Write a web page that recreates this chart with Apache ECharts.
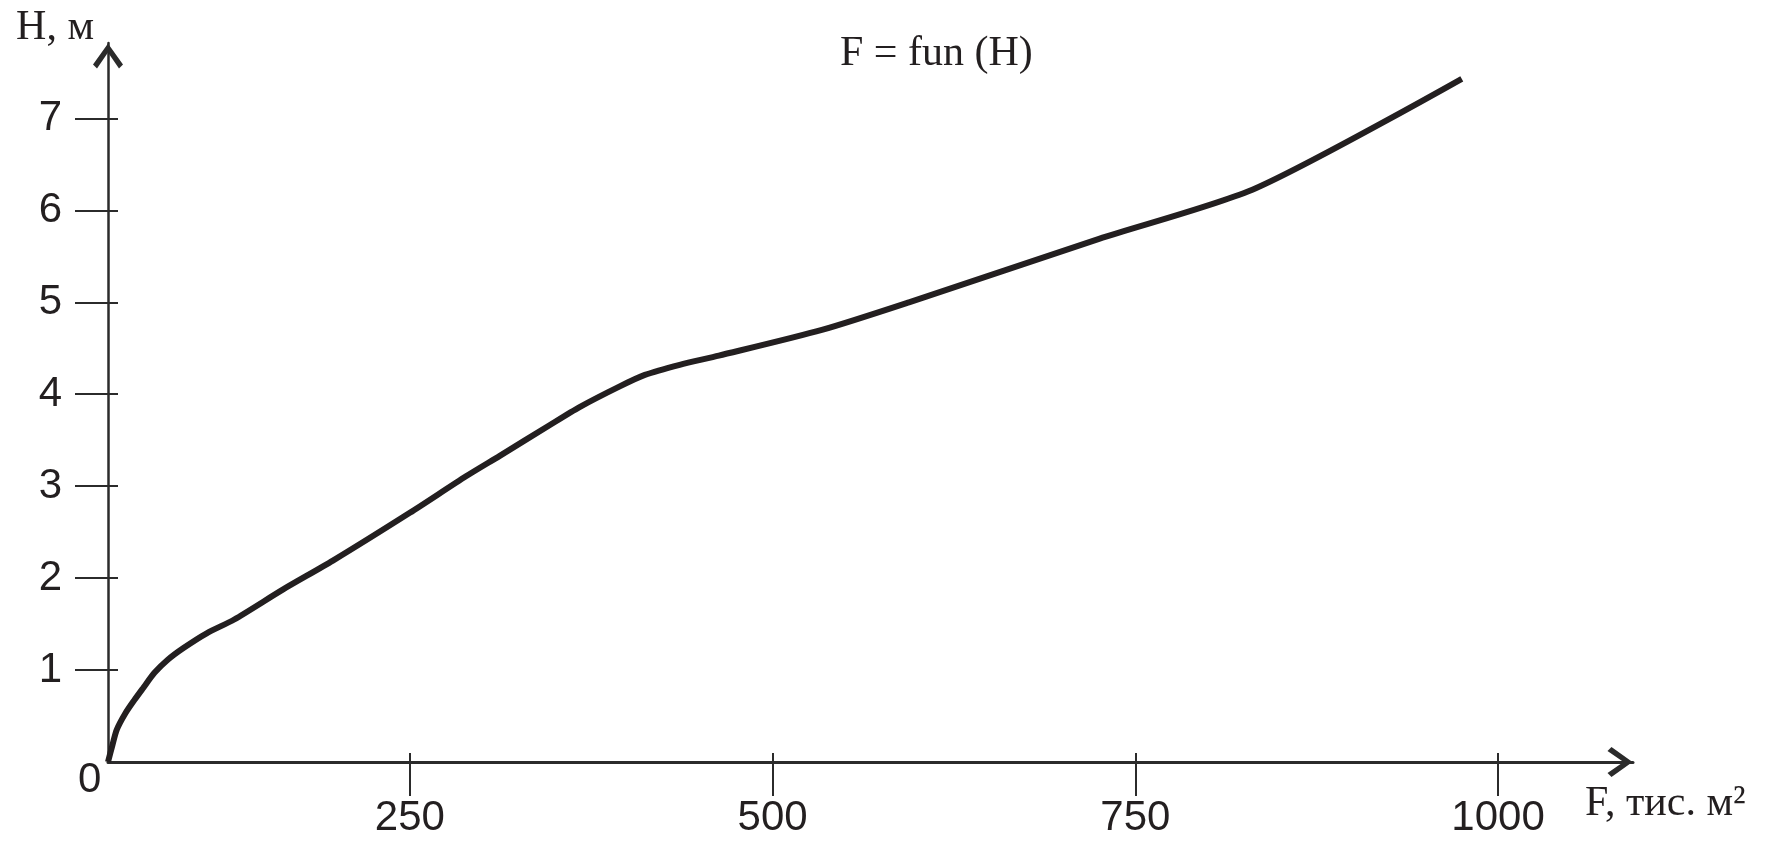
<!DOCTYPE html>
<html><head><meta charset="utf-8">
<script src="https://cdn.jsdelivr.net/npm/echarts@6/dist/echarts.min.js"></script>
<style>html,body{margin:0;padding:0;background:#fff}#c{width:1769px;height:849px}</style>
</head><body><div id="c"></div>
<script>
// Data
const F = [42, 45, 48, 54, 60, 66, 74, 83, 94, 110, 129, 163, 197, 250, 289, 312, 346, 367, 394, 412, 436, 463, 534, 594, 725, 833, 975];
const H = [0, 0.18, 0.35, 0.53, 0.67, 0.80, 0.97, 1.11, 1.24, 1.40, 1.55, 1.88, 2.19, 2.71, 3.11, 3.33, 3.66, 3.86, 4.08, 4.21, 4.32, 4.42, 4.70, 5.00, 5.69, 6.24, 7.43];
const xTickValues = [250, 500, 750, 1000];
const yTickValues = [1, 2, 3, 4, 5, 6, 7];
const xRange = [42, 1093];
const yRange = [0, 7.82];
const titleText = 'F = fun (H)';
const xName = 'F, тис. м²';
const yName = 'H, м';
const originLabel = '0';

const ink = '#231f20';
const axisInk = '#2b2b2b';
const serif = '"Liberation Serif", "Times New Roman", serif';
const sans = '"Liberation Sans", Arial, sans-serif';
const chevron = 'path://M15,0 L30,21 L26,25 L15,9 L4,25 L0,21 Z';

const chart = echarts.init(document.getElementById('c'), null, { renderer: 'canvas' });
const option = {
  animation: false,
  backgroundColor: '#ffffff',
  title: {
    text: titleText, left: 840, top: 33, padding: 0,
    textStyle: { fontFamily: serif, fontSize: 42, fontWeight: 'normal', color: ink }
  },
  grid: { left: 108, right: 136, top: 43, bottom: 87, containLabel: false, outerBoundsMode: 'none' },
  xAxis: [
    {
      type: 'value', min: xRange[0], max: xRange[1], position: 'bottom', offset: -9,
      axisLine: { show: false, onZero: false },
      axisTick: { show: true, length: 43, customValues: xTickValues, lineStyle: { color: axisInk, width: 2 } },
      axisLabel: { show: true, customValues: xTickValues, margin: 44, fontFamily: sans, fontSize: 42, color: ink,
        formatter: v => String(v) },
      splitLine: { show: false }
    },
    {
      type: 'value', min: xRange[0], max: xRange[1], position: 'bottom',
      axisLine: { show: true, onZero: false, lineStyle: { color: axisInk, width: 3 },
        symbol: ['none', chevron], symbolSize: [30, 26], symbolOffset: [0, -13] },
      axisTick: { show: false }, axisLabel: { show: false }, splitLine: { show: false },
      name: xName, nameLocation: 'end', nameGap: -48,
      nameTextStyle: { fontFamily: serif, fontSize: 42, color: ink, align: 'left', verticalAlign: 'top', padding: [21, 0, 0, 0] }
    }
  ],
  yAxis: [
    {
      type: 'value', min: yRange[0], max: yRange[1], position: 'left', offset: -10,
      axisLine: { show: false, onZero: false },
      axisTick: { show: true, length: 43, customValues: yTickValues, lineStyle: { color: axisInk, width: 2 } },
      axisLabel: { show: true, customValues: yTickValues, margin: 56, fontFamily: sans, fontSize: 42, color: ink,
        formatter: v => String(v) },
      splitLine: { show: false }
    },
    {
      type: 'value', min: yRange[0], max: yRange[1], position: 'left',
      axisLine: { show: true, onZero: false, lineStyle: { color: axisInk, width: 2.5 },
        symbol: ['none', chevron], symbolSize: [30, 26], symbolOffset: [0, -13] },
      axisTick: { show: false }, axisLabel: { show: false }, splitLine: { show: false },
      name: yName, nameLocation: 'end', nameGap: -6,
      nameTextStyle: { fontFamily: serif, fontSize: 42, color: ink, align: 'right', padding: [0, 14, 0, 0] }
    }
  ],
  graphic: [
    { type: 'text', left: 78, top: 759, silent: true,
      style: { text: originLabel, font: '42px ' + sans, fill: ink } }
  ],
  series: [
    {
      type: 'line', xAxisIndex: 0, yAxisIndex: 0,
      data: F.map((f, i) => [f, H[i]]),
      showSymbol: false, symbol: 'none', smooth: 0.25,
      lineStyle: { color: ink, width: 6, join: 'round', cap: 'butt' },
      silent: true
    }
  ]
};
chart.setOption(option);
</script>
</body></html>
